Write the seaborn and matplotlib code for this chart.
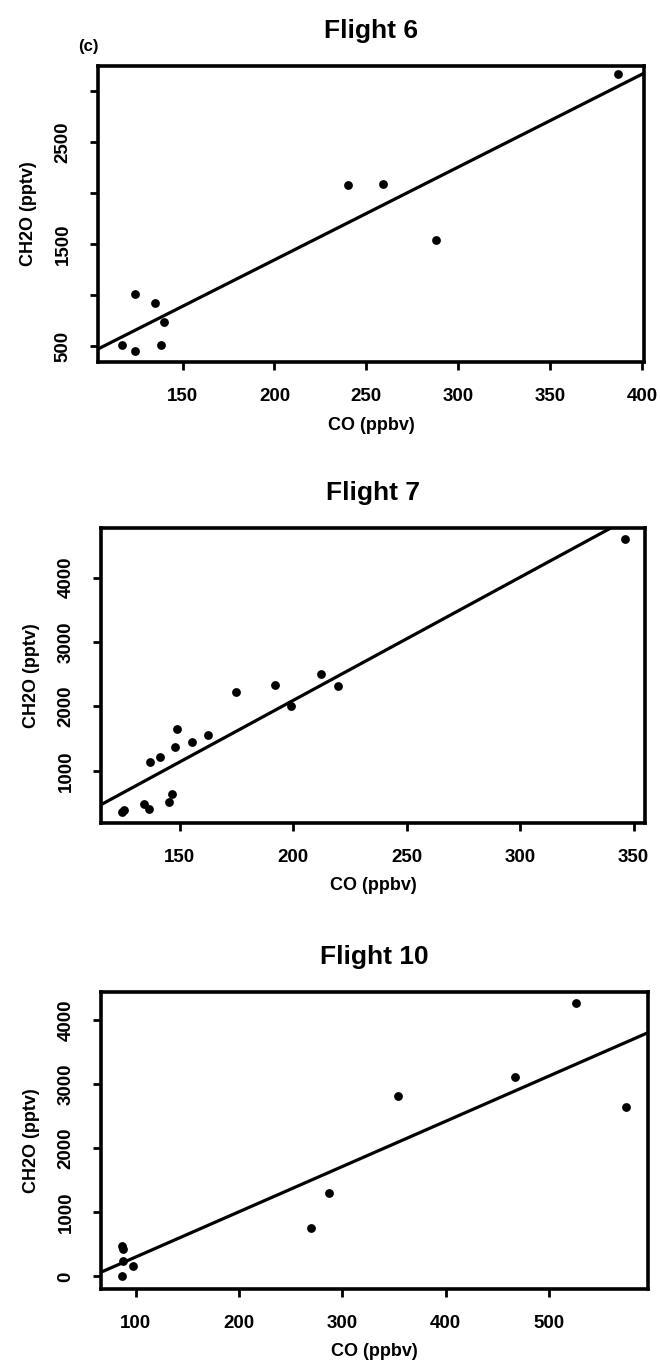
import numpy as np
import pandas as pd
import matplotlib
matplotlib.use("Agg")
import matplotlib.pyplot as plt
import seaborn as sns

# ---- data ----
f6_co = [117, 124, 124, 135, 140, 138, 240, 259, 288, 387]
f6_ch2o = [515, 450, 1015, 925, 740, 515, 2085, 2095, 1540, 3170]

f7_co = [124.5, 125.5, 134.5, 136.5, 137, 141.5, 145.5, 146.5, 148, 149,
         155.5, 162.5, 175, 192, 199, 212.5, 220, 346]
f7_ch2o = [360, 390, 480, 400, 1130, 1220, 515, 645, 1365, 1645,
           1455, 1560, 2230, 2340, 2010, 2500, 2320, 4600]

f10_co = [86.5, 87.5, 88, 97, 86.5, 270, 287, 354, 467, 526, 575]
f10_ch2o = [470, 435, 235, 170, 0, 755, 1300, 2820, 3110, 4275, 2645]

titles = ["Flight 6", "Flight 7", "Flight 10"]
x_ticks = [[150, 200, 250, 300, 350, 400],
           [150, 200, 250, 300, 350],
           [100, 200, 300, 400, 500]]
y_ticks = [[500, 1000, 1500, 2000, 2500, 3000],
           [1000, 2000, 3000, 4000],
           [0, 1000, 2000, 3000, 4000]]
y_labels = [["500", "", "1500", "", "2500", ""],
            ["1000", "2000", "3000", "4000"],
            ["0", "1000", "2000", "3000", "4000"]]
x_lims = [(104, 401), (115.4, 355), (66.5, 596)]
y_lims = [(347, 3250), (190, 4770), (-197, 4442)]

sns.set_theme(style="ticks")
fam = ["Liberation Sans", "DejaVu Sans"]
plt.rcParams["font.family"] = fam
for k in ["text.color", "axes.labelcolor", "xtick.color", "ytick.color",
          "axes.edgecolor"]:
    plt.rcParams[k] = "black"

fig = plt.figure(figsize=(6.6, 13.64), dpi=100)
W, H = 660.0, 1364.0
boxes = [(98, 66, 644, 362), (101, 528, 645, 823), (101, 992, 648, 1289)]

datasets = [(f6_co, f6_ch2o), (f7_co, f7_ch2o), (f10_co, f10_ch2o)]

for i, ((co, ch2o), (l, t, r, b)) in enumerate(zip(datasets, boxes)):
    ax = fig.add_axes([l / W, 1 - b / H, (r - l) / W, (b - t) / H])
    df = pd.DataFrame({"CO (ppbv)": co, "CH2O (pptv)": ch2o})
    ax.set_xlim(*x_lims[i])
    ax.set_ylim(*y_lims[i])
    sns.regplot(data=df, x="CO (ppbv)", y="CH2O (pptv)", ax=ax, ci=None,
                truncate=False, color="black",
                scatter_kws=dict(s=40, color="black", linewidths=0, alpha=1),
                line_kws=dict(color="black", linewidth=2.3))
    ax.set_xlim(*x_lims[i])
    ax.set_ylim(*y_lims[i])
    ax.set_xticks(x_ticks[i])
    ax.set_xticklabels([str(v) for v in x_ticks[i]], fontsize=13.5,
                       fontweight="bold", family=fam)
    ax.set_yticks(y_ticks[i])
    ax.set_yticklabels(y_labels[i], fontsize=13.5, fontweight="bold",
                       rotation=90, va="center", family=fam)
    ax.tick_params(axis="both", direction="out", length=6, width=2,
                   color="black", pad=13)
    for sp in ax.spines.values():
        sp.set_visible(True)
        sp.set_linewidth(2.6)
        sp.set_color("black")
    ax.set_xlabel("CO (ppbv)", fontsize=13, fontweight="bold", labelpad=8,
                  family=fam)
    ax.set_ylabel("CH2O (pptv)", fontsize=13, fontweight="bold", labelpad=13,
                  family=fam)
    ax.set_title(titles[i], fontsize=19, fontweight="bold", pad=20, family=fam)

fig.text(88 / W, 1 - 47 / H, "(c)", fontsize=12, fontweight="bold",
         ha="center", va="center", family=fam)

fig.savefig("out.png", dpi=100)
